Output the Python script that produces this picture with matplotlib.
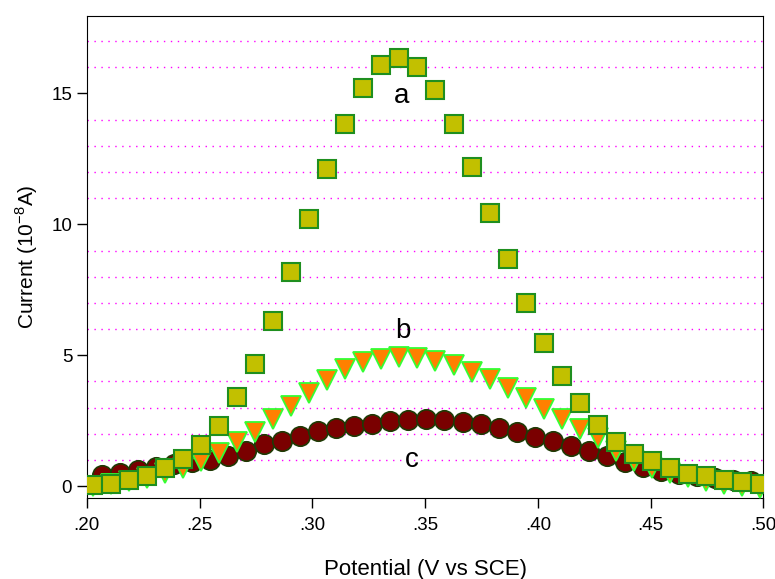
import numpy as np
import matplotlib
matplotlib.use('Agg')
import matplotlib.pyplot as plt
from matplotlib.ticker import MultipleLocator, FuncFormatter

# potentials (V vs SCE)
x_sq = [0.2026 + 0.008 * k for k in range(38)]
x_circ = [0.2066 + 0.008 * k for k in range(37)]

# curve a (squares)
cur_a = [0.06, 0.08, 0.23, 0.40, 0.68, 1.03, 1.57, 2.31, 3.39, 4.68,
         6.32, 8.18, 10.19, 12.13, 13.84, 15.21, 16.09, 16.34, 16.02, 15.14,
         13.83, 12.19, 10.43, 8.66, 6.98, 5.47, 4.22, 3.19, 2.34, 1.69,
         1.24, 0.95, 0.71, 0.48, 0.37, 0.25, 0.14, 0.08]
# curve b (triangles)
cur_b = [0.0, 0.07, 0.20, 0.33, 0.52, 0.71, 0.98, 1.28, 1.68, 2.06,
         2.57, 3.07, 3.57, 4.04, 4.46, 4.74, 4.87, 4.95, 4.91, 4.77,
         4.61, 4.37, 4.08, 3.75, 3.36, 2.93, 2.57, 2.20, 1.84, 1.35,
         0.97, 0.68, 0.50, 0.36, 0.20, 0.07, 0.0, -0.06]
# curve c (circles)
cur_c = [0.41, 0.51, 0.63, 0.73, 0.83, 0.92, 1.00, 1.16, 1.34, 1.61,
         1.73, 1.91, 2.09, 2.24, 2.31, 2.39, 2.47, 2.52, 2.55, 2.52,
         2.46, 2.39, 2.24, 2.05, 1.88, 1.73, 1.53, 1.34, 1.15, 0.92,
         0.73, 0.58, 0.47, 0.38, 0.31, 0.24, 0.19]

plt.rcParams['font.family'] = ['Liberation Sans', 'DejaVu Sans']

fig = plt.figure(figsize=(7.75, 5.79), dpi=100)
ax = fig.add_axes([0.112, 0.140, 0.873, 0.832])

ax.plot(x_circ, cur_c, 'o', ms=14, mfc='#7a0000', mec='#1f3a05', mew=1.2, zorder=3)
ax.plot(x_sq, cur_b, 'v', ms=14, mfc='#ff8000', mec='#33ff33', mew=1.3, zorder=4)
ax.plot(x_sq, cur_a, 's', ms=12.5, mfc='#c2c000', mec='#1f8f1f', mew=1.5, zorder=5)

ax.text(0.3395, 14.9, 'a', fontsize=20, ha='center', va='center', zorder=6)
ax.text(0.3400, 5.94, 'b', fontsize=20, ha='center', va='center', zorder=6)
ax.text(0.3440, 1.0, 'c', fontsize=20, ha='center', va='center', zorder=6)

ax.set_xlim(0.2, 0.5)
ax.set_ylim(-0.45, 17.95)
ax.xaxis.set_major_locator(MultipleLocator(0.05))
ax.yaxis.set_major_locator(MultipleLocator(5))
ax.yaxis.set_minor_locator(MultipleLocator(1))
ax.xaxis.set_major_formatter(FuncFormatter(lambda v, p: f'{v:.2f}'.lstrip('0')))
ax.grid(which='minor', axis='y', color='#ff00ff', linestyle=(0, (1, 4)), linewidth=1.0)
ax.tick_params(which='major', direction='out', length=7, width=1, labelsize=13.5)
ax.tick_params(axis='x', pad=7)
ax.tick_params(which='minor', length=0)

ax.set_xlabel('Potential (V vs SCE)', fontsize=16, labelpad=18)
ax.set_ylabel('Current (10$^{\\mathregular{-8}}$A)', fontsize=15, labelpad=8)

fig.savefig('out.png', dpi=100)
